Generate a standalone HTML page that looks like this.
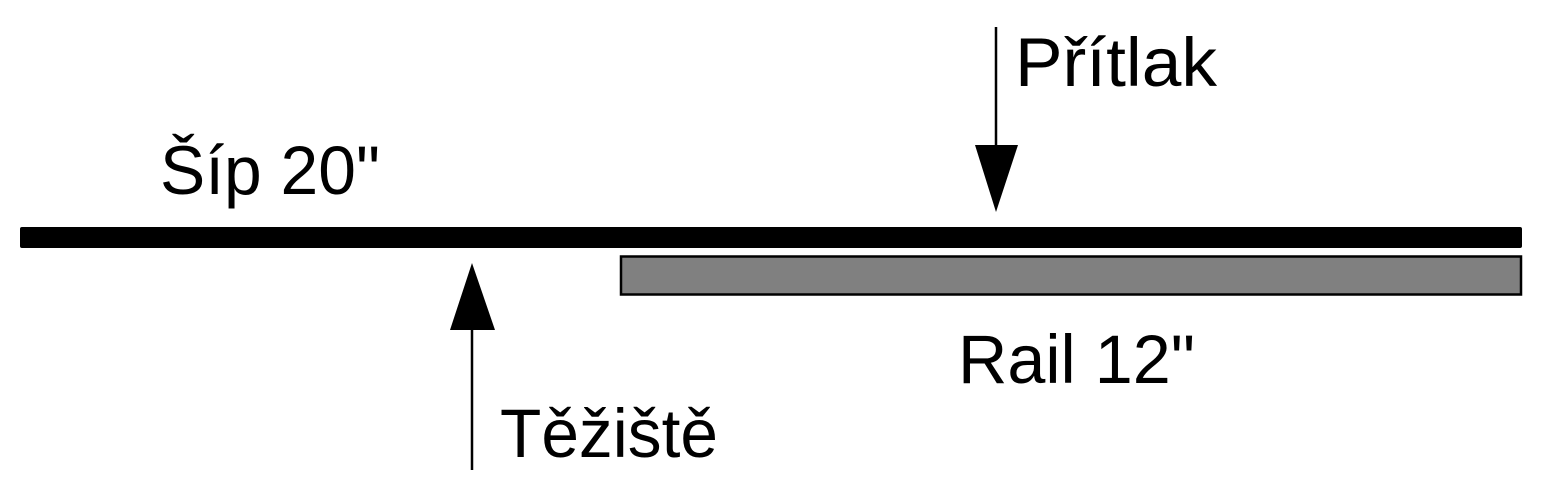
<!DOCTYPE html>
<html><head><meta charset="utf-8"><style>html,body{margin:0;padding:0;background:#fff;}svg{display:block}</style></head>
<body>
<svg width="1554" height="504" viewBox="0 0 1554 504" xmlns="http://www.w3.org/2000/svg">
<rect x="20" y="227" width="1502" height="21" rx="2" fill="#000"/>
<rect x="621" y="256.5" width="900" height="38" fill="#808080" stroke="#000" stroke-width="2.5"/>
<line x1="996" y1="27" x2="996" y2="146" stroke="#000" stroke-width="2.5"/>
<polygon points="975,145 1018,145 996,212" fill="#000"/>
<line x1="472" y1="470" x2="472" y2="330" stroke="#000" stroke-width="2.5"/>
<polygon points="450,330 495,330 472,263" fill="#000"/>
<g font-family="'Liberation Sans', 'DejaVu Sans', sans-serif" font-size="69" fill="#000">
<text x="160" y="194" textLength="220" lengthAdjust="spacingAndGlyphs">Šíp 20"</text>
<text x="1015" y="86" textLength="202" lengthAdjust="spacingAndGlyphs">Přítlak</text>
<text x="958" y="383" textLength="237" lengthAdjust="spacingAndGlyphs">Rail 12"</text>
<text x="500" y="457" textLength="218" lengthAdjust="spacingAndGlyphs">Těžiště</text>
</g>
</svg>
</body></html>
